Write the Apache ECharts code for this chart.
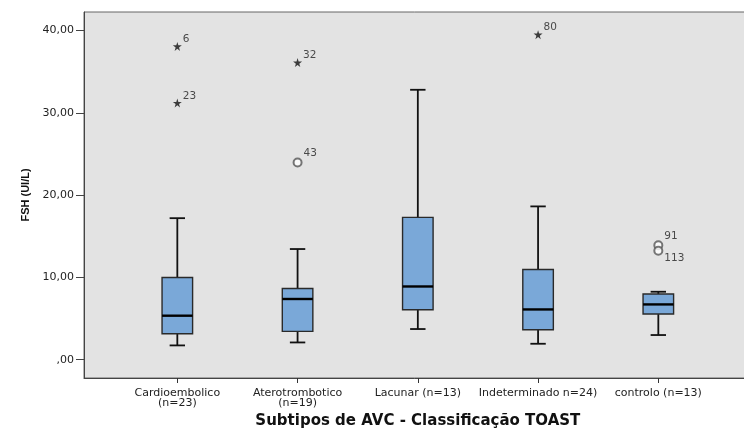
<!DOCTYPE html>
<html>
<head>
<meta charset="utf-8">
<script src="https://cdn.jsdelivr.net/npm/echarts@6/dist/echarts.min.js"></script>
<style>html,body{margin:0;padding:0;background:#fff}#c{width:744px;height:428px}</style>
</head>
<body>
<div id="c"></div>
<script>
const categories = ['Cardioembolico\n(n=23)', 'Aterotrombotico\n(n=19)', 'Lacunar (n=13)', 'Indeterminado n=24)', 'controlo (n=13)'];
const whiskerLow = [1.74, 2.10, 3.73, 1.94, 3.00];
const q1 = [3.16, 3.44, 6.08, 3.65, 5.55];
const median = [5.35, 7.38, 8.90, 6.11, 6.72];
const q3 = [10.00, 8.66, 17.30, 10.97, 7.98];
const whiskerHigh = [17.20, 13.45, 32.80, 18.63, 8.26];
const extremeCat = [0, 0, 1, 3];
const extremeVal = [38.07, 31.20, 36.10, 39.50];
const extremeId = ['6', '23', '32', '80'];
const outlierCat = [1, 4, 4];
const outlierVal = [23.97, 13.90, 13.25];
const outlierId = ['43', '91', '113'];
const outlierBelow = [false, false, true];
const yTicks = [0, 10, 20, 30, 40];
const yMin = -2.22, yMax = 42.25;

const fmt = v => (v === 0 ? ',00' : v.toFixed(2).replace('.', ','));
const FONT = 'DejaVu Sans';

const chart = echarts.init(document.getElementById('c'), null, {renderer: 'canvas'});
const boxData = categories.map((c, i) => [i, whiskerLow[i], q1[i], median[i], q3[i], whiskerHigh[i]]);
const starPath = 'path://M50,0 L61,35 L98,35 L68,57 L79,91 L50,70 L21,91 L32,57 L2,35 L39,35 Z';

chart.setOption({
  animation: false,
  backgroundColor: '#ffffff',
  grid: [
    {left: 84, top: 12, width: 667, height: 366, outerBoundsMode: 'none', containLabel: false,
     show: true, backgroundColor: '#e3e3e3', borderColor: '#666', borderWidth: 1},
    {left: 117.2, top: 12, width: 601.25, height: 366, outerBoundsMode: 'none', containLabel: false}
  ],
  xAxis: [
    {gridIndex: 0, type: 'value', min: 0, max: 1, axisLine: {show: true, onZero: false, lineStyle: {color: '#444', width: 1}},
     axisTick: {show: false}, axisLabel: {show: false}, splitLine: {show: false}},
    {gridIndex: 1, type: 'category', data: categories, position: 'bottom',
     axisLine: {show: false, onZero: false}, splitLine: {show: false},
     axisTick: {show: true, alignWithLabel: true, length: 5, lineStyle: {color: '#333'}},
     axisLabel: {interval: 0, margin: 10, fontFamily: FONT, fontSize: 11, color: '#222', lineHeight: 10},
     name: 'Subtipos de AVC - Classificação TOAST', nameLocation: 'middle', nameGap: 35,
     nameTextStyle: {fontFamily: FONT, fontSize: 15, fontWeight: 'bold', color: '#111'}}
  ],
  yAxis: [
    {gridIndex: 0, type: 'value', min: yMin, max: yMax,
     axisLine: {show: true, onZero: false, lineStyle: {color: '#444', width: 1}},
     axisTick: {show: true, length: 8, customValues: yTicks, lineStyle: {color: '#444'}},
     axisLabel: {customValues: yTicks, formatter: fmt, margin: 10, fontFamily: FONT, fontSize: 11, color: '#222'},
     splitLine: {show: false},
     name: 'FSH (UI/L)', nameLocation: 'middle', nameGap: 48, nameRotate: 90,
     nameTextStyle: {fontFamily: 'Liberation Sans', fontSize: 11, fontWeight: 'bold', color: '#111'}},
    {gridIndex: 1, type: 'value', min: yMin, max: yMax, show: false, splitLine: {show: false}}
  ],
  series: [
    {
      type: 'custom', xAxisIndex: 1, yAxisIndex: 1, data: boxData,
      encode: {x: 0, y: [1, 2, 3, 4, 5]},
      renderItem: function (params, api) {
        const x = api.value(0);
        const bw = api.size([1, 0])[0];
        const half = bw * 0.127;
        const cap = bw * 0.064;
        const pLow = api.coord([x, api.value(1)]);
        const pQ1 = api.coord([x, api.value(2)]);
        const pMed = api.coord([x, api.value(3)]);
        const pQ3 = api.coord([x, api.value(4)]);
        const pHigh = api.coord([x, api.value(5)]);
        const cx = pLow[0];
        const wl = {stroke: '#111', lineWidth: 1.8};
        return {
          type: 'group',
          children: [
            {type: 'line', shape: {x1: cx, y1: pQ3[1], x2: cx, y2: pHigh[1]}, style: wl},
            {type: 'line', shape: {x1: cx, y1: pQ1[1], x2: cx, y2: pLow[1]}, style: wl},
            {type: 'line', shape: {x1: cx - cap, y1: pHigh[1], x2: cx + cap, y2: pHigh[1]}, style: wl},
            {type: 'line', shape: {x1: cx - cap, y1: pLow[1], x2: cx + cap, y2: pLow[1]}, style: wl},
            {type: 'rect', shape: {x: cx - half, y: pQ3[1], width: 2 * half, height: pQ1[1] - pQ3[1]},
             style: {fill: '#7aa8d8', stroke: '#2a2a2a', lineWidth: 1.4}},
            {type: 'line', shape: {x1: cx - half, y1: pMed[1], x2: cx + half, y2: pMed[1]}, style: {stroke: '#000', lineWidth: 2.4}}
          ]
        };
      }
    },
    {
      type: 'scatter', xAxisIndex: 1, yAxisIndex: 1, symbol: starPath, symbolSize: 9,
      itemStyle: {color: '#111'},
      label: {show: true, position: 'right', distance: 1, offset: [0, -7], formatter: '{b}', fontFamily: FONT, fontSize: 10.5, color: '#222'},
      data: extremeVal.map((v, i) => ({name: extremeId[i], value: [extremeCat[i], v]}))
    },
    {
      type: 'scatter', xAxisIndex: 1, yAxisIndex: 1, symbol: 'emptyCircle', symbolSize: 8,
      itemStyle: {color: '#555', borderColor: '#555', borderWidth: 1},
      label: {show: true, position: 'right', distance: 1, formatter: '{b}', fontFamily: FONT, fontSize: 10.5, color: '#222'},
      data: outlierVal.map((v, i) => ({name: outlierId[i], value: [outlierCat[i], v],
        label: {offset: [0, outlierBelow[i] ? 8 : -9]}}))
    }
  ]
});
</script>
</body>
</html>
